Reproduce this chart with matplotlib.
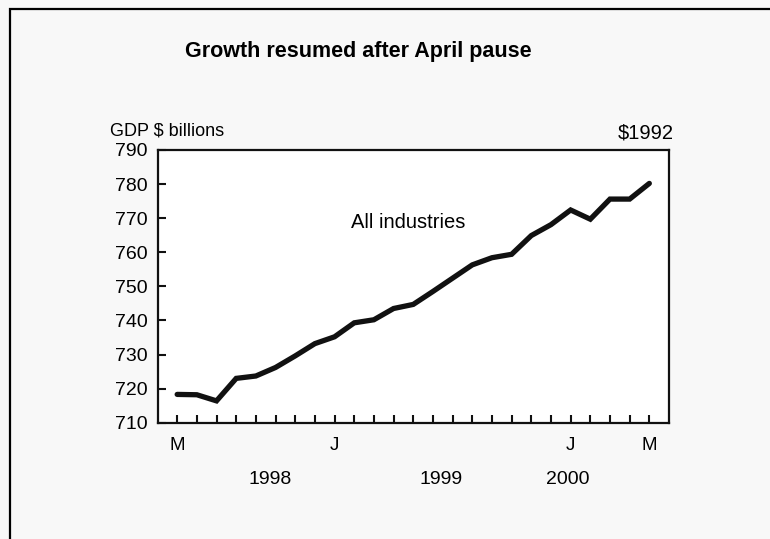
import matplotlib
matplotlib.use('Agg')
import matplotlib.pyplot as plt
from matplotlib.patches import Rectangle

plt.rcParams['font.family'] = ['Liberation Sans', 'DejaVu Sans']

# Monthly GDP, May 1998 .. May 2000 ($1992 billions)
months = list(range(25))
gdp = [718.3, 718.2, 716.4, 723.0, 723.7, 726.2, 729.6, 733.2, 735.2, 739.3,
       740.2, 743.5, 744.7, 748.5, 752.4, 756.3, 758.4, 759.4, 764.9, 768.1,
       772.4, 769.7, 775.6, 775.6, 780.2]

month_ticks = [0, 8, 20, 24]
month_labels = ['M', 'J', 'J', 'M']
year_pos = [4.75, 13.4, 19.85]
year_labels = ['1998', '1999', '2000']
y_ticks = [710, 720, 730, 740, 750, 760, 770, 780, 790]

fig = plt.figure(figsize=(7.7, 5.39), dpi=100)
fig.patch.set_facecolor('#f8f8f8')

# outer frame of the picture (runs off the right and bottom)
fig.patches.append(Rectangle((10 / 770, -0.1), 2, 1 - 8.5 / 539 + 0.1,
                             transform=fig.transFigure, fill=False,
                             edgecolor='black', lw=1.6))

ax = fig.add_axes([157.5 / 770, 1 - 422.7 / 539, 511.5 / 770, 272.7 / 539])
ax.set_facecolor('white')

ax.plot(months, gdp, color='#111111', lw=3.8, solid_joinstyle='miter',
        solid_capstyle='round')

ax.set_xlim(-1, 25)
ax.set_ylim(710, 790)
ax.set_yticks(y_ticks)
ax.set_yticklabels([str(v) for v in y_ticks], fontsize=14)
ax.set_xticks(months)
ax.set_xticklabels([])
ax.tick_params(axis='both', direction='in', width=1.5, color='#111111')
ax.tick_params(axis='y', length=6, pad=7)
ax.tick_params(axis='x', length=6)
for s in ax.spines.values():
    s.set_linewidth(1.6)
    s.set_color('#111111')

# month and year labels under the axis
for m, lab in zip(month_ticks, month_labels):
    ax.text(m, -0.085, lab, transform=ax.get_xaxis_transform(),
            ha='center', va='center', fontsize=13.5)
for p, lab in zip(year_pos, year_labels):
    ax.text(p, -0.21, lab, transform=ax.get_xaxis_transform(),
            ha='center', va='center', fontsize=14)

ax.text((408 - 157.5) / 511.5, 1 - (222 - 150) / 272.7, 'All industries',
        transform=ax.transAxes, ha='center', va='center', fontsize=14.5)

fig.text(358 / 770, 1 - 52 / 539, 'Growth resumed after April pause',
         ha='center', va='center', fontsize=15.5, fontweight='bold')
fig.text(110 / 770, 1 - 131 / 539, 'GDP $ billions', ha='left', va='center',
         fontsize=13)
fig.text(674 / 770, 1 - 133 / 539, '$1992', ha='right', va='center',
         fontsize=14.5)

fig.savefig('out.png', dpi=100, facecolor=fig.get_facecolor())
